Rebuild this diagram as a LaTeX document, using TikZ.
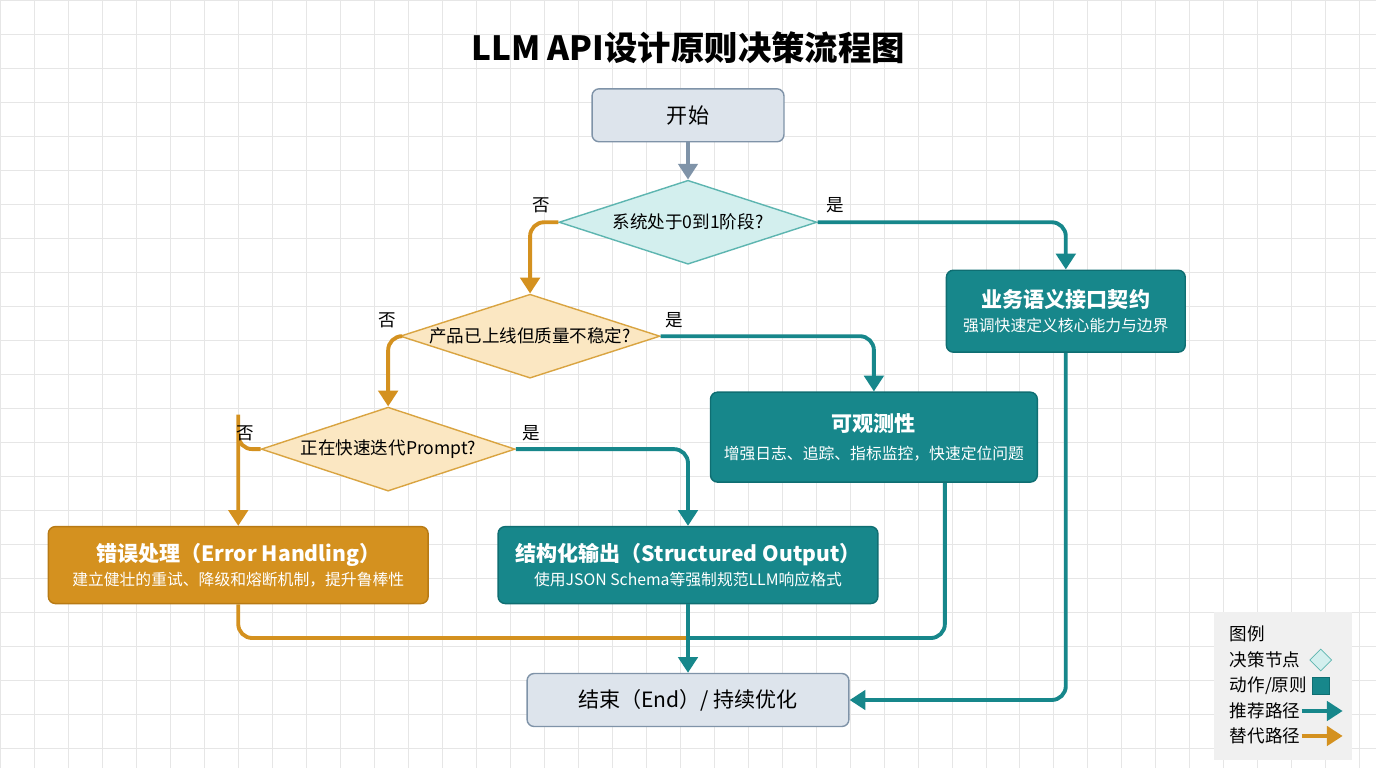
\documentclass[tikz,border=0pt]{standalone}
\usepackage{fontspec}
\setmainfont{Noto Sans CJK SC}
\usetikzlibrary{arrows.meta,shapes.geometric,calc}
\definecolor{gridc}{HTML}{E6E6E6}
\definecolor{teal1}{HTML}{17878B}
\definecolor{teal2}{HTML}{0F6E72}
\definecolor{ochre}{HTML}{D4911F}
\definecolor{ochre2}{HTML}{B87A14}
\definecolor{slate}{HTML}{DDE4EC}
\definecolor{slate2}{HTML}{7F93A8}
\definecolor{cyanl}{HTML}{D3EFEE}
\definecolor{cyan2}{HTML}{5DB5B0}
\definecolor{sand}{HTML}{FBE7C2}
\definecolor{sand2}{HTML}{D9A441}
\tikzset{
  term/.style={draw=slate2, fill=slate, rounded corners=4pt, line width=0.8pt, font=\large},
  ask/.style={diamond, aspect=3.1, inner sep=0pt, line width=0.8pt, font=\normalsize},
  askA/.style={ask, draw=cyan2, fill=cyanl},
  askB/.style={ask, draw=sand2, fill=sand},
  act/.style={rounded corners=4pt, line width=0.8pt, text=white, align=center},
  good/.style={draw=teal1, line width=2.2pt, rounded corners=8pt, -{Triangle[length=9pt,width=11pt]}},
  alt/.style={draw=ochre, line width=2.2pt, rounded corners=8pt, -{Triangle[length=9pt,width=11pt]}},
  lbl/.style={font=\normalsize},
}
\begin{document}
\begin{tikzpicture}[x=0.02cm, y=-0.02cm]

  \fill[white] (0,0) rectangle (1376,768);
  \foreach \i in {0,34,...,1376} \draw[gridc, line width=0.4pt] (\i,0) -- (\i,768);
  \foreach \j in {0,34,...,768} \draw[gridc, line width=0.4pt] (0,\j) -- (1376,\j);

  \node[font=\bfseries\fontsize{19}{22}\selectfont] (title) at (688,47) {LLM API设计原则决策流程图};

  % decisions and actions
  \node[term, minimum width=192*0.02cm, minimum height=53*0.02cm] (start) at (688,115) {开始};
  \node[askA, minimum width=258*0.02cm, minimum height=84*0.02cm] (d1) at (688,222) {系统处于0到1阶段?};
  \node[askB, minimum width=260*0.02cm, minimum height=84*0.02cm] (d2) at (530,336) {产品已上线但质量不稳定?};
  \node[askB, minimum width=254*0.02cm, minimum height=84*0.02cm] (d3) at (388,449) {正在快速迭代Prompt?};

  \node[act, draw=teal2, fill=teal1, minimum width=239*0.02cm, minimum height=82*0.02cm] (biz) at (1066,311)
    {{\bfseries\large 业务语义接口契约}\\[2pt]{\small 强调快速定义核心能力与边界}};
  \node[act, draw=teal2, fill=teal1, minimum width=327*0.02cm, minimum height=90*0.02cm] (obs) at (874,437)
    {{\bfseries\large 可观测性}\\[4pt]{\small 增强日志、追踪、指标监控，快速定位问题}};
  \node[act, draw=ochre2, fill=ochre, minimum width=380*0.02cm, minimum height=77*0.02cm] (err) at (238,565)
    {{\bfseries\large 错误处理（Error Handling）}\\[2pt]{\small 建立健壮的重试、降级和熔断机制，提升鲁棒性}};
  \node[act, draw=teal2, fill=teal1, minimum width=380*0.02cm, minimum height=77*0.02cm] (struct) at (688,565)
    {{\bfseries\large 结构化输出（Structured Output）}\\[2pt]{\small 使用JSON Schema等强制规范LLM响应格式}};
  \node[term, minimum width=322*0.02cm, minimum height=53*0.02cm] (end) at (688,700) {结束（End）/ 持续优化};

  \coordinate (merge) at (688,638);

  % connectors
  \draw[draw=slate2, line width=2.2pt, -{Triangle[length=9pt,width=11pt]}] (start) -- (d1);
  \draw[good] (d1.east) -| (biz.north);
  \draw[alt] (d1.west) -| (d2.north);
  \draw[good] (d2.east) -| (obs.north);
  \draw[alt] (d2.west) -| (d3.north);
  \draw[good] (d3.east) -| (struct.north);
  \draw[alt] (d3.west) -| (err.south |- d3.north) -- (err.north);
  \draw[alt, -] (err.south) |- (merge);
  \draw[good, -] (obs.south -| 945,0) |- (merge);
  \draw[good] (struct.south) -- (end.north);
  \draw[good] (biz.south) |- (end.east);

  \node[lbl] (y1) at (835,205) {是};
  \node[lbl] (n1) at (541,205) {否};
  \node[lbl] (y2) at (674,320) {是};
  \node[lbl] (n2) at (387,320) {否};
  \node[lbl] (y3) at (531,433) {是};
  \node[lbl] (n3) at (245,433) {否};

  % legend
  \fill[black!6] (1214,612) rectangle (1352,760);
  \node[anchor=west, font=\normalsize] (lg0) at (1224,634) {图例};
  \node[anchor=west, font=\normalsize] (lg1) at (1224,660) {决策节点};
  \node[anchor=west, font=\normalsize] (lg2) at (1224,686) {动作/原则};
  \node[anchor=west, font=\normalsize] (lg3) at (1224,711) {推荐路径};
  \node[anchor=west, font=\normalsize] (lg4) at (1224,736) {替代路径};
  \node[diamond, aspect=1, draw=cyan2, fill=cyanl, minimum size=22*0.02cm, inner sep=0pt] (ld) at (1321,660) {};
  \node[draw=teal2, fill=teal1, minimum size=17*0.02cm, inner sep=0pt] (la) at (1321,686) {};
  \coordinate (g1) at (1302,711); \coordinate (g2) at (1343,711);
  \coordinate (o1) at (1302,736); \coordinate (o2) at (1343,736);
  \draw[good] (g1) -- (g2);
  \draw[alt] (o1) -- (o2);

\end{tikzpicture}
\end{document}
